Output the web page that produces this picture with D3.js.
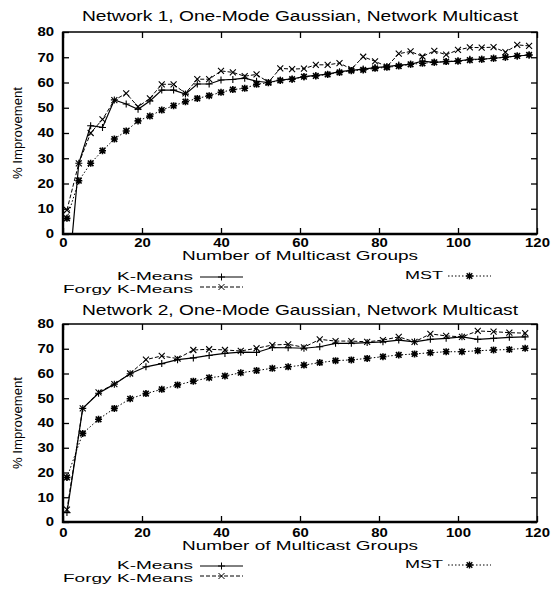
<!DOCTYPE html>
<html>
<head>
<meta charset="utf-8">
<script src="https://cdn.jsdelivr.net/npm/d3@7"></script>
<style>
  body { margin: 0; background: #fff; }
  text { font-family: "Liberation Sans", Arial, sans-serif; fill: #000; }
</style>
</head>
<body>
<svg id="chart" width="556" height="593"></svg>
<script>
// ---- data ----
const xTicks = [0, 20, 40, 60, 80, 100, 120];
const yTicks = [0, 10, 20, 30, 40, 50, 60, 70, 80];

// Network 1: groups every 3
const groups1 = [1, 4, 7, 10, 13, 16, 19, 22, 25, 28, 31, 34, 37, 40, 43, 46, 49, 52, 55, 58,
                 61, 64, 67, 70, 73, 76, 79, 82, 85, 88, 91, 94, 97, 100, 103, 106, 109, 112, 115, 118];
const kmeans1 = [-24, 28, 42.9, 42.2, 53.1, 51.5, 49.4, 52.7, 57, 57, 55.4, 59.4, 59.4, 61, 61.2, 61.7, 60.5, 60, 61, 61.4,
                 62.3, 62.8, 63.3, 64.3, 64.8, 65.3, 65.9, 66.3, 66.9, 67.2, 68.5, 68, 68.3, 68.5, 69.2, 69.2, 69.6, 70, 70.5, 70.9];
const forgy1 = [9.5, 28, 40, 45.4, 53, 55.7, 50.4, 53.7, 59.3, 59.3, 55.7, 61.3, 61.3, 64.6, 64, 62.5, 63.2, 60.1, 65.6, 65.3,
                65.5, 67, 67, 67.7, 65.3, 70.2, 68.4, 66.3, 71.4, 72.3, 70.3, 72.5, 71, 72.9, 73.9, 73.8, 74, 72, 74.9, 74.5];
const mst1 = [6.2, 21.1, 28, 33, 37.6, 40.8, 44.8, 46.7, 49.1, 50.8, 52.4, 53.7, 54.8, 56.1, 57.2, 57.7, 59.3, 59.9, 60.8, 61.3,
              62.3, 62.6, 63.2, 64, 64.7, 65, 65.6, 66, 66.5, 67.2, 67.6, 68, 68.3, 68.5, 68.9, 69.2, 69.6, 70, 70.5, 70.9];

// Network 2: groups every 4
const groups2 = [1, 5, 9, 13, 17, 21, 25, 29, 33, 37, 41, 45, 49, 53, 57,
                 61, 65, 69, 73, 77, 81, 85, 89, 93, 97, 101, 105, 109, 113, 117];
const kmeans2 = [3.8, 45.9, 52, 55.7, 59.9, 62.7, 64, 65.6, 66.3, 67.3, 68.1, 68.6, 68.5, 70.5, 70.4,
                 70.2, 70.8, 72.2, 72.2, 72.5, 72.8, 73.5, 72.8, 73.8, 74.2, 74.8, 73.8, 74.2, 74.6, 74.8];
const forgy2 = [5, 45.9, 52.4, 55.7, 60, 65.6, 67.1, 66, 69.5, 69.8, 69.5, 69.1, 70.2, 71.5, 71.8,
                70.6, 73.8, 73.1, 73.1, 72.8, 73.5, 74.8, 72.8, 76, 75.2, 74.8, 77.2, 76.9, 76.5, 76.3];
const mst2 = [18, 35.8, 41.5, 45.9, 49.8, 51.9, 53.6, 55.4, 56.9, 58.3, 59, 60.3, 61.2, 62.1, 62.7,
              63.4, 64.4, 65.2, 65.5, 66.1, 66.8, 67.5, 67.9, 68.4, 68.8, 68.8, 69.2, 69.5, 69.7, 70.2];

const svg = d3.select("#chart");

// marker shapes
const markers = {
  plus: "M-3.5,0H3.5M0,-3.5V3.5",
  cross: "M-3,-3L3,3M-3,3L3,-3",
  star: "M-3.5,0H3.5M0,-3.5V3.5M-2.8,-2.8L2.8,2.8M-2.8,2.8L2.8,-2.8"
};

function panel(cfg) {
  let x = d3.scaleLinear().domain([0, 120]).range([63, 537]);
  let y = d3.scaleLinear().domain([0, 80]).range([cfg.bottom, cfg.top]);
  let g = svg.append("g");

  // clip to plot area
  g.append("clipPath").attr("id", cfg.id)
    .append("rect")
    .attr("x", x(0)).attr("y", y(80))
    .attr("width", x(120) - x(0)).attr("height", y(0) - y(80));

  // title
  g.append("text")
    .attr("x", 300).attr("y", cfg.titleY)
    .attr("text-anchor", "middle")
    .attr("font-size", 14)
    .attr("textLength", 436).attr("lengthAdjust", "spacingAndGlyphs")
    .text(cfg.title);

  // axes with inward ticks
  let bottomAxis = g.append("g")
    .attr("transform", "translate(0," + y(0) + ")")
    .call(d3.axisBottom(x).tickValues(xTicks).tickSize(-6).tickPadding(cfg.xPad));
  g.append("g")
    .attr("transform", "translate(0," + y(80) + ")")
    .call(d3.axisTop(x).tickValues(xTicks).tickSize(-6).tickFormat(""));
  let leftAxis = g.append("g")
    .attr("transform", "translate(" + x(0) + ",0)")
    .call(d3.axisLeft(y).tickValues(yTicks).tickSize(-6).tickPadding(9));
  g.append("g")
    .attr("transform", "translate(" + x(120) + ",0)")
    .call(d3.axisRight(y).tickValues(yTicks).tickSize(-6).tickFormat(""));

  g.selectAll(".domain").remove();
  g.selectAll(".tick line").attr("stroke", "#000").attr("stroke-width", 1.3);
  [bottomAxis, leftAxis].forEach(a => {
    a.selectAll(".tick text")
      .attr("font-size", 12)
      .attr("font-weight", "bold")
      .attr("font-family", "Liberation Sans, Arial, sans-serif")
      .attr("textLength", d => String(d).length * 8.3)
      .attr("lengthAdjust", "spacingAndGlyphs");
  });

  // frame
  g.append("rect")
    .attr("x", x(0)).attr("y", y(80))
    .attr("width", x(120) - x(0)).attr("height", y(0) - y(80))
    .attr("fill", "none").attr("stroke", "#000").attr("stroke-width", 1.5);
  g.append("path")
    .attr("d", "M" + x(0) + "," + y(80) + "V" + y(0) + "H" + x(120))
    .attr("fill", "none").attr("stroke", "#000").attr("stroke-width", 2.4);

  // axis labels
  g.append("text")
    .attr("x", 300).attr("y", cfg.xLabelY)
    .attr("text-anchor", "middle")
    .attr("font-size", 13)
    .attr("textLength", 236).attr("lengthAdjust", "spacingAndGlyphs")
    .text("Number of Multicast Groups");
  g.append("text")
    .attr("transform", "translate(22," + ((y(0) + y(80)) / 2) + ") rotate(-90)")
    .attr("text-anchor", "middle")
    .attr("font-size", 12)
    .attr("textLength", 92).attr("lengthAdjust", "spacingAndGlyphs")
    .text("% Improvement");

  // series
  let series = [
    {name: "K-Means", vals: cfg.kmeans, dash: null, marker: "plus", width: 1.2},
    {name: "Forgy K-Means", vals: cfg.forgy, dash: "4,2", marker: "cross", width: 1},
    {name: "MST", vals: cfg.mst, dash: "1.5,2", marker: "star", width: 1}
  ];
  let line = d3.line().x(d => x(d[0])).y(d => y(d[1]));
  let plot = g.append("g").attr("clip-path", "url(#" + cfg.id + ")");
  series.forEach(s => {
    let pts = cfg.groups.map((v, i) => [v, s.vals[i]]);
    plot.append("path")
      .attr("d", line(pts))
      .attr("fill", "none").attr("stroke", "#000")
      .attr("stroke-width", s.width)
      .attr("stroke-dasharray", s.dash);
    plot.selectAll(null)
      .data(pts.filter(p => p[1] >= 0))
      .join("path")
      .attr("transform", p => "translate(" + x(p[0]) + "," + y(p[1]) + ")")
      .attr("d", markers[s.marker])
      .attr("fill", "none").attr("stroke", "#000")
      .attr("stroke-width", s.marker === "star" ? 1.6 : 1.1);
  });

  // legend (tightly stacked like the original)
  let leg = [
    {s: series[0], tx: 193, ty: cfg.legY, lx1: 200, lx2: 243, ly: cfg.legY - 3, w: 76},
    {s: series[1], tx: 193, ty: cfg.legY + 13, lx1: 200, lx2: 243, ly: cfg.legY + 7, w: 130},
    {s: series[2], tx: 443, ty: cfg.mstY, lx1: 448, lx2: 491, ly: cfg.mstY - 3, w: 38}
  ];
  leg.forEach(l => {
    g.append("text")
      .attr("x", l.tx).attr("y", l.ty)
      .attr("text-anchor", "end")
      .attr("font-size", 11.5)
      .attr("textLength", l.w).attr("lengthAdjust", "spacingAndGlyphs")
      .text(l.s.name);
    g.append("line")
      .attr("x1", l.lx1).attr("x2", l.lx2)
      .attr("y1", l.ly).attr("y2", l.ly)
      .attr("stroke", "#000").attr("stroke-width", 1)
      .attr("stroke-dasharray", l.s.dash);
    g.append("path")
      .attr("transform", "translate(" + ((l.lx1 + l.lx2) / 2) + "," + l.ly + ")")
      .attr("d", markers[l.s.marker])
      .attr("fill", "none").attr("stroke", "#000")
      .attr("stroke-width", l.s.marker === "star" ? 1.4 : 1);
  });
}

panel({
  id: "clip1", title: "Network 1, One-Mode Gaussian, Network Multicast",
  top: 32, bottom: 234, titleY: 21, xPad: 4, xLabelY: 260, legY: 280, mstY: 279,
  groups: groups1, kmeans: kmeans1, forgy: forgy1, mst: mst1
});
panel({
  id: "clip2", title: "Network 2, One-Mode Gaussian, Network Multicast",
  top: 324, bottom: 522, titleY: 315, xPad: 6, xLabelY: 550, legY: 569, mstY: 568,
  groups: groups2, kmeans: kmeans2, forgy: forgy2, mst: mst2
});
</script>
</body>
</html>
